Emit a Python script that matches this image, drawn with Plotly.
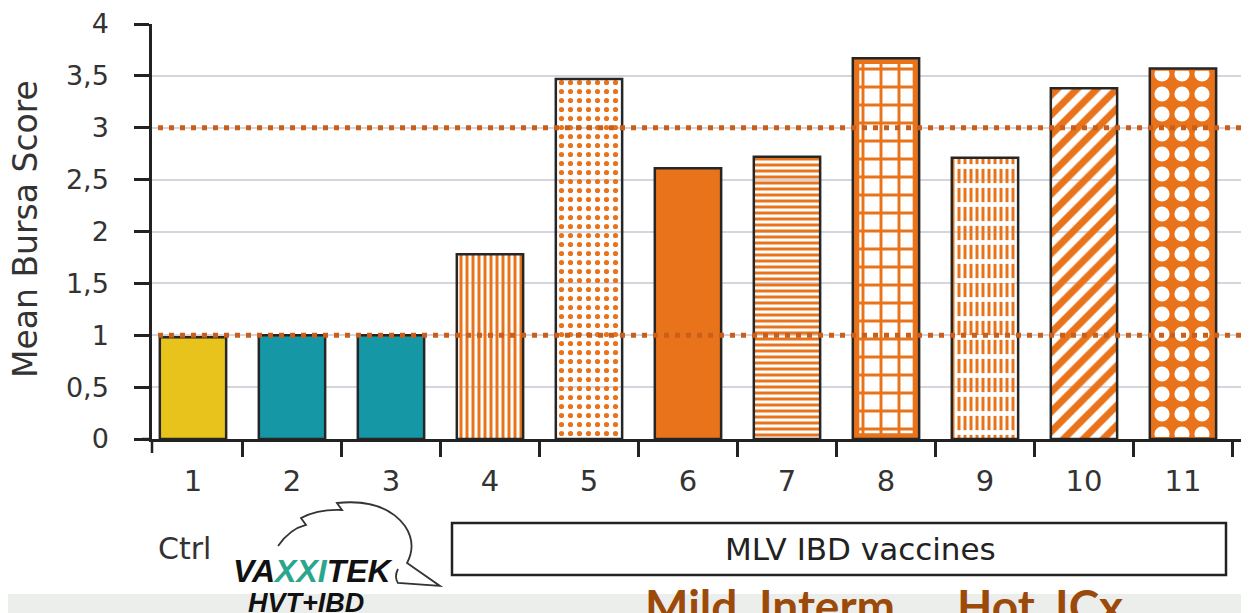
import plotly.graph_objects as go

# data
groups = ["1", "2", "3", "4", "5", "6", "7", "8", "9", "10", "11"]
scores = [0.98, 1.0, 1.0, 1.78, 3.47, 2.61, 2.72, 3.67, 2.71, 3.38, 3.57]
thresholds = [1, 3]
y_ticks = [0, 0.5, 1, 1.5, 2, 2.5, 3, 3.5, 4]
y_tick_labels = ["0", "0,5", "1", "1,5", "2", "2,5", "3", "3,5", "4"]
group_labels = ["Ctrl", "MLV IBD vaccines"]
vaccine_types = ["Mild", "Interm.", "Hot", "ICx"]

YELLOW = "#E8C31B"
TEAL = "#1597A5"
ORANGE = "#E8731A"
PAT = "#EA7A26"

bar_colors = [YELLOW, TEAL, TEAL] + [ORANGE] * 8
shapes_ = ["", "", "", "|", ".", "", "-", "", "|", "/", ""]
fg = [YELLOW, TEAL, TEAL, PAT, PAT, ORANGE, PAT, ORANGE, PAT, PAT, ORANGE]
bg = [YELLOW, TEAL, TEAL, "white", "white", ORANGE, "white", ORANGE, "white", "white", ORANGE]
psize = [8, 8, 8, 6, 9, 8, 6, 8, 6, 14, 8]
psol = [0.3, 0.3, 0.3, 0.5, 0.26, 0.3, 0.5, 0.3, 0.5, 0.5, 0.3]

# page has an 8px body margin, so the figure is 8px smaller than the window
OFF = 8
W, H = 1249 - OFF, 613 - OFF
# plot area in window pixels
L, R, T, B = 152, 1249, 24, 439


def px(x):
    return (x - L) / (R - L)


def py(y):
    return (B - y) / (B - T)


def overlay(i, width, shape, fgc, bgc, size, sol, pad=0.0):
    return go.Bar(
        x=[groups[i]], y=[scores[i] - 2 * pad], base=pad, width=width,
        marker=dict(color=bgc, line=dict(width=0),
                    pattern=dict(shape=shape, fgcolor=fgc, bgcolor=bgc,
                                 size=size, solidity=sol, fillmode="replace")),
        hoverinfo="skip", showlegend=False,
    )


fig = go.Figure()
fig.add_trace(go.Bar(
    x=groups, y=scores, width=0.67,
    marker=dict(color=bar_colors, line=dict(color="#262626", width=2.5),
                pattern=dict(shape=shapes_, fgcolor=fg, bgcolor=bg,
                             size=psize, solidity=psol, fillmode="replace")),
    hoverinfo="skip", showlegend=False,
))
# inner grid of bar 8 (orange frame around it)
fig.add_trace(overlay(7, 0.54, "+", ORANGE, "white", 18, 0.3, pad=0.055))
# white breaks turning bar 9 lines into dashes
fig.add_trace(overlay(8, 0.6, "-", "white", "rgba(0,0,0,0)", 19, 0.25, pad=0.015))
# white holes of bar 11
fig.add_trace(overlay(10, 0.6, ".", "white", "rgba(0,0,0,0)", 20, 0.45, pad=0.02))

shapes = []
for t in thresholds:
    shapes.append(dict(type="line", xref="paper", yref="y", x0=px(158), x1=1.0, y0=t, y1=t,
                       line=dict(color="#C95F1B", width=5, dash="5px,6px"), layer="above"))
# little axis extensions past the corner
shapes.append(dict(type="line", xref="paper", yref="paper", x0=px(142), x1=0, y0=0, y1=0,
                   line=dict(color="#222", width=2.5)))
shapes.append(dict(type="line", xref="paper", yref="paper", x0=0, x1=0, y0=0, y1=py(453),
                   line=dict(color="#222", width=2.5)))
# box around MLV group label
shapes.append(dict(type="rect", xref="paper", yref="paper", x0=px(452), x1=px(1226), y0=py(575), y1=py(523),
                   line=dict(color="#222", width=2.5), fillcolor="white"))
# grey strip at bottom
shapes.append(dict(type="rect", xref="paper", yref="paper", x0=px(0), x1=px(1249), y0=py(613), y1=py(594),
                   line=dict(width=0), fillcolor="#ECEEEC", layer="below"))
# swoosh of the logo
pts = "M {},{} Q {},{} {},{} L {},{} Q {},{} {},{} L {},{} Q {},{} {},{} Q {},{} {},{} L {},{} L {},{} Q {},{} {},{}"
raw = [(278, 546), (290, 529), (306, 525), (301, 518), (318, 509), (342, 510), (337, 503),
       (384, 498), (405, 526), (417, 544), (407, 563), (440, 586), (398, 583), (394, 577), (398, 569)]
coords = []
for a, b in raw:
    coords += [round(px(a), 4), round(py(b), 4)]
shapes.append(dict(type="path", xref="paper", yref="paper", path=pts.format(*coords),
                   line=dict(color="#333", width=1.8)))

font = "DejaVu Sans"
ann = [
    dict(x=px(25), y=py(229), text="Mean Bursa Score", textangle=-90,
         font=dict(size=33, color="#333", family=font)),
    dict(x=px(184), y=py(548), text=group_labels[0],
         font=dict(size=30, color="#333", family=font)),
    dict(x=px(860), y=py(549), text=group_labels[1],
         font=dict(size=31, color="#222", family=font)),
    dict(x=px(231), y=py(571), xanchor="left",
         text="<b><i>VA<span style='color:#2AA58E'>XXI</span>TEK</i></b>",
         font=dict(size=32, color="#111", family="Liberation Sans")),
    dict(x=px(246), y=py(603), xanchor="left",
         text="<b><i>HVT+IBD</i></b>",
         font=dict(size=27, color="#111", family="Liberation Sans")),
]
for word, left in zip(vaccine_types, [643, 757, 955, 1053]):
    ann.append(dict(x=px(left), y=py(576), xanchor="left", yanchor="top",
                    text="<b>" + word + "</b>",
                    font=dict(size=46, color="#9B4A0A", family="Lato")))
for a in ann:
    a.setdefault("xref", "paper")
    a.setdefault("yref", "paper")
    a.setdefault("xanchor", "center")
    a.setdefault("yanchor", "middle")
    a["showarrow"] = False

fig.update_layout(
    width=W, height=H,
    margin=dict(l=L - OFF, r=0, t=T - OFF, b=H - (B - OFF), autoexpand=False),
    paper_bgcolor="white", plot_bgcolor="white",
    barmode="overlay",
    shapes=shapes, annotations=ann,
    font=dict(family=font, color="#333"),
    xaxis=dict(type="category", range=[-0.414, 10.667], showgrid=False, automargin=False,
               showline=True, linecolor="#222", linewidth=2.5,
               ticks="outside", tickson="boundaries", ticklen=15, tickwidth=2.5, tickcolor="#222",
               tickfont=dict(size=29, color="#333"), ticklabelstandoff=14),
    yaxis=dict(range=[0, 4], tickvals=y_ticks, ticktext=y_tick_labels, automargin=False,
               showgrid=True, gridcolor="#D5D5DE", gridwidth=2, zeroline=False,
               showline=True, linecolor="#222", linewidth=2.5,
               ticks="outside", ticklen=15, tickwidth=2.5, tickcolor="#222",
               tickfont=dict(size=27, color="#333"), ticklabelstandoff=20),
)

fig.write_html("out.html")
